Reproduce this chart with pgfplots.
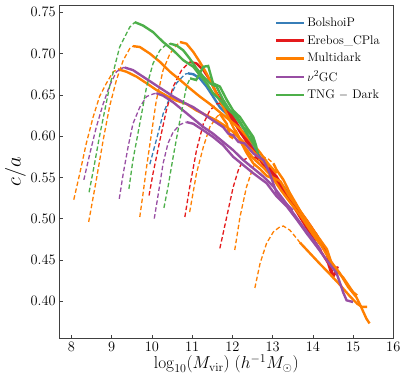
\documentclass[border=0pt]{standalone}
\usepackage{pgfplots}
\pgfplotsset{compat=1.18}
\definecolor{cB}{HTML}{377EB8}
\definecolor{cR}{HTML}{E41A1C}
\definecolor{cO}{HTML}{FF7F00}
\definecolor{cP}{HTML}{984EA3}
\definecolor{cG}{HTML}{4DAF4A}
\begin{document}
\begin{tikzpicture}
\begin{axis}[name=ax, scale only axis, width=334pt, height=333pt,
 xmin=7.7, xmax=16, ymin=0.355, ymax=0.7585,
 xtick={8,9,10,11,12,13,14,15,16}, ytick={0.40,0.45,0.50,0.55,0.60,0.65,0.70,0.75},
 yticklabel style={/pgf/number format/.cd, fixed, fixed zerofill, precision=2},
 tick align=inside, xtick pos=bottom, ytick pos=left, major tick length=3.5pt,
 tick label style={font=\fontsize{15}{18}\selectfont},
 xlabel={$\log_{10}(M_{\rm vir})\ (h^{-1}M_{\odot})$},
 ylabel={$c/a$},
 xlabel style={font=\fontsize{16.5}{19}\selectfont, yshift=3pt},
 ylabel style={font=\fontsize{21}{25}\selectfont, yshift=-2pt},
 axis line style={draw=black!75, line width=0.8pt},
 every tick/.style={black!75, line width=0.6pt},
 legend style={draw=none, fill=none, at={(0.975,0.975)}, anchor=north east, font=\fontsize{12.5}{15}\selectfont, row sep=3.5pt},
 legend cell align=left,
 legend image code/.code={\draw[#1] (0pt,0pt) -- (28pt,0pt);},
 dsh/.style={dash pattern=on 4.5pt off 2.5pt, line width=1.3pt},
 sld/.style={line width=2.4pt},
]
\addlegendimage{cB, sld}\addlegendentry{BolshoiP}
\addlegendimage{cR, sld}\addlegendentry{Erebos\_CPla}
\addlegendimage{cO, sld}\addlegendentry{Multidark}
\addlegendimage{cP, sld}\addlegendentry{$\nu^2$GC}
\addlegendimage{cG, sld}\addlegendentry{TNG $-$ Dark}

% BolshoiP
\addplot[cB, dsh, forget plot] coordinates {(9.95,.566) (10.11,.595) (10.28,.627) (10.45,.647) (10.61,.664) (10.82,.675) (10.9,.676)};
\addplot[cB, sld, forget plot] coordinates {(10.9,.676) (11.03,.675) (11.19,.670) (11.36,.660) (11.52,.648) (11.69,.635) (11.94,.623) (12.19,.607) (12.44,.591) (12.69,.575) (12.93,.559) (13.1,.546) (13.27,.539) (13.51,.522) (13.76,.502) (14.01,.482) (14.2,.468)};

% Erebos
\addplot[cR, dsh, forget plot] coordinates {(9.93,.528) (10.03,.555) (10.2,.595) (10.36,.631) (10.53,.660) (10.74,.680) (10.94,.690)};
\addplot[cR, sld, forget plot] coordinates {(10.94,.690) (11.11,.688) (11.28,.680) (11.44,.668) (11.61,.652) (11.77,.640) (12.02,.623) (12.27,.603) (12.52,.583) (12.77,.567) (13.02,.551) (13.27,.535) (13.51,.518) (13.76,.498) (13.97,.482) (14.1,.475) (14.2,.474)};
\addplot[cR, dsh, forget plot] coordinates {(10.82,.502) (10.94,.538) (11.11,.583) (11.28,.615) (11.44,.631) (11.61,.639) (11.7,.640)};
\addplot[cR, sld, forget plot] coordinates {(11.7,.640) (11.86,.631) (12.02,.619) (12.19,.605) (12.44,.587) (12.69,.571) (12.93,.555) (13.18,.539) (13.43,.522) (13.68,.502) (13.93,.482) (14.18,.462) (14.38,.446) (14.47,.432) (14.55,.433) (14.62,.442)};
\addplot[cR, dsh, forget plot] coordinates {(11.69,.464) (11.86,.502) (12.02,.538) (12.15,.559) (12.27,.571) (12.44,.575) (12.55,.575)};
\addplot[cR, sld, forget plot] coordinates {(12.55,.575) (12.69,.571) (12.85,.565) (13.1,.551) (13.35,.531) (13.6,.514) (13.85,.498) (14.1,.480) (14.34,.458) (14.45,.440) (14.51,.430) (14.6,.438)};

% Multidark
\addplot[cO, dsh, forget plot] coordinates {(8.06,.523) (8.21,.555) (8.37,.591) (8.54,.623) (8.70,.648) (8.87,.664) (9.04,.678) (9.16,.681)};
\addplot[cO, sld, forget plot] coordinates {(9.16,.681) (9.37,.678) (9.62,.672) (9.87,.664) (10.11,.656) (10.36,.649) (10.61,.643) (10.86,.639) (11.11,.631) (11.36,.625) (11.61,.619) (11.86,.611) (12.02,.605) (12.19,.597) (12.44,.585) (12.69,.573) (12.9,.562)};
\addplot[cO, dsh, forget plot] coordinates {(8.43,.496) (8.62,.547) (8.79,.595) (8.95,.636) (9.12,.668) (9.29,.692) (9.45,.706) (9.53,.709)};
\addplot[cO, sld, forget plot] coordinates {(9.53,.709) (9.70,.708) (9.95,.700) (10.2,.690) (10.45,.678) (10.7,.668) (10.94,.658) (11.19,.648) (11.44,.639) (11.69,.629) (11.94,.619) (12.19,.609) (12.44,.595) (12.69,.580) (12.9,.566) (13.1,.555)};
\addplot[cO, dsh, forget plot] coordinates {(9.70,.502) (9.78,.530) (9.87,.563) (9.99,.603) (10.11,.643) (10.28,.680) (10.45,.700) (10.61,.710) (10.7,.714)};
\addplot[cO, sld, forget plot] coordinates {(10.7,.714) (10.86,.712) (11.03,.702) (11.19,.690) (11.36,.676) (11.52,.660) (11.69,.643) (11.86,.627) (12.02,.611) (12.19,.595) (12.35,.580) (12.52,.567) (12.69,.560) (12.85,.552) (13.02,.548) (13.2,.535) (13.43,.520) (13.7,.503) (14.0,.481) (14.2,.468)};
\addplot[cO, dsh, forget plot] coordinates {(10.94,.508) (11.11,.555) (11.28,.587) (11.44,.611) (11.61,.623) (11.69,.627)};
\addplot[cO, sld, forget plot] coordinates {(11.69,.627) (11.86,.615) (11.94,.600) (12.0,.598) (12.1,.605) (12.27,.589) (12.52,.573) (12.77,.562) (13.0,.550) (13.2,.545) (13.4,.528) (13.6,.515) (13.85,.498) (14.1,.480) (14.35,.463) (14.5,.441) (14.75,.429) (15.0,.411) (15.1,.407)};
\addplot[cO, dsh, forget plot] coordinates {(12.06,.462) (12.19,.502) (12.35,.538) (12.52,.563) (12.69,.573) (12.77,.575) (12.9,.572) (13.02,.567)};
\addplot[cO, sld, forget plot] coordinates {(13.02,.567) (13.1,.559) (13.27,.547) (13.43,.531) (13.68,.510) (13.93,.490) (14.18,.470) (14.42,.450) (14.67,.434) (14.88,.417) (15.08,.405) (15.2,.393) (15.33,.379) (15.41,.373)};
\addplot[cO, dsh, forget plot] coordinates {(12.56,.416) (12.69,.446) (12.85,.470) (13.02,.484) (13.18,.490) (13.27,.491) (13.43,.486) (13.6,.476) (13.68,.471)};
\addplot[cO, sld, forget plot] coordinates {(13.68,.471) (13.93,.458) (14.18,.445) (14.42,.433) (14.67,.420) (14.92,.406) (15.1,.397) (15.22,.393) (15.35,.393)};

% nu2GC
\addplot[cP, dsh, forget plot] coordinates {(8.31,.547) (8.46,.579) (8.62,.611) (8.79,.639) (8.95,.661) (9.12,.678) (9.29,.683) (9.33,.683)};
\addplot[cP, sld, forget plot] coordinates {(9.33,.683) (9.53,.680) (9.78,.672) (10.03,.664) (10.28,.656) (10.53,.648) (10.78,.641) (11.03,.635) (11.28,.627) (11.52,.619) (11.77,.611) (11.9,.603) (12.02,.601) (12.15,.593) (12.31,.591) (12.52,.579) (12.77,.571) (12.93,.555) (13.1,.531) (13.3,.520) (13.5,.510)};
\addplot[cP, dsh, forget plot] coordinates {(9.19,.524) (9.29,.555) (9.41,.587) (9.53,.615) (9.70,.635) (9.87,.648) (10.03,.651) (10.11,.652)};
\addplot[cP, sld, forget plot] coordinates {(10.11,.652) (10.28,.649) (10.53,.641) (10.78,.631) (11.03,.621) (11.28,.611) (11.52,.603) (11.77,.593) (12.02,.583) (12.27,.571) (12.52,.561) (12.77,.551) (13.02,.539) (13.27,.523) (13.51,.507) (13.76,.490) (14.01,.474) (14.2,.462)};
\addplot[cP, dsh, forget plot] coordinates {(10.06,.500) (10.16,.530) (10.28,.567) (10.40,.591) (10.53,.605) (10.70,.614) (10.86,.617)};
\addplot[cP, sld, forget plot] coordinates {(10.86,.617) (11.03,.615) (11.28,.607) (11.52,.599) (11.77,.589) (12.02,.575) (12.27,.565) (12.52,.555) (12.85,.543) (13.1,.527) (13.35,.515) (13.6,.499) (13.85,.482) (14.1,.466) (14.34,.450) (14.59,.434) (14.76,.410) (14.84,.401) (15.0,.399)};

% TNG-Dark
\addplot[cG, dsh, forget plot] coordinates {(8.44,.532) (8.57,.565) (8.70,.600) (8.95,.660) (9.20,.708) (9.45,.732) (9.58,.738)};
\addplot[cG, sld, forget plot] coordinates {(9.58,.738) (9.78,.734) (10.03,.726) (10.28,.714) (10.53,.704) (10.78,.692) (11.03,.684) (11.19,.674) (11.36,.664) (11.52,.652) (11.69,.644) (11.86,.634) (12.02,.627) (12.2,.615) (12.4,.600) (12.6,.585)};
\addplot[cG, dsh, forget plot] coordinates {(9.43,.536) (9.53,.571) (9.70,.615) (9.87,.660) (10.03,.688) (10.2,.704) (10.36,.711) (10.45,.712)};
\addplot[cG, sld, forget plot] coordinates {(10.45,.712) (10.61,.710) (10.78,.704) (10.94,.694) (11.11,.682) (11.28,.672) (11.44,.664) (11.61,.660) (11.77,.644) (11.94,.631) (12.1,.625) (12.27,.611) (12.44,.603) (12.56,.591) (12.64,.579)};
\addplot[cG, dsh, forget plot] coordinates {(10.3,.513) (10.4,.538) (10.53,.575) (10.7,.620) (10.86,.660) (10.95,.670)};
\addplot[cG, sld, forget plot] coordinates {(10.95,.670) (11.1,.668) (11.28,.684) (11.4,.685) (11.52,.664) (11.69,.660) (11.86,.644) (12.02,.631) (12.19,.623) (12.35,.611) (12.52,.599) (12.6,.587)};
\end{axis}
\path (ax.south west) ++(-59.3pt,-47.7pt);
\path (ax.north east) ++(13.7pt,5.3pt);
\end{tikzpicture}
\end{document}
